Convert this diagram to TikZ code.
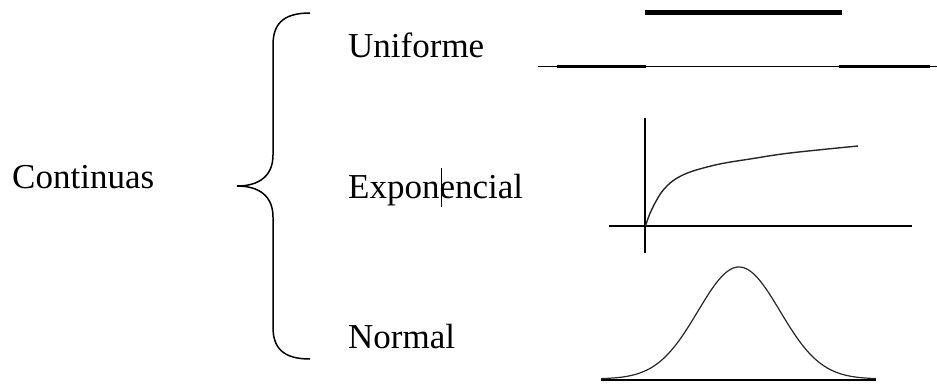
\documentclass[tikz,border=0pt]{standalone}
\usepackage{fontspec}
\setmainfont{Liberation Serif}
\usetikzlibrary{positioning}

\begin{document}
\begin{tikzpicture}[x=1pt,y=-1pt,
  every node/.style={font=\fontsize{35}{40}\selectfont,inner sep=0pt,anchor=base west},
  axisline/.style={line width=1.3pt},
  curveline/.style={line width=1.4pt,black!85}]
\useasboundingbox (0,0) rectangle (937,383);
% labels
\node (cont) at (12,188) {Continuas};
\node (unif) at (348,57) {Uniforme};
\node (expo) at (348,198) {Exponencial};
\node (norm) at (348,348) {Normal};
\draw[line width=1pt] (441,168) -- (441,207);
% brace
\draw[line width=1.5pt] (310,13) .. controls (282,13) and (273,25) .. (273,45)
  -- (273,155) .. controls (273,176) and (259,186) .. (237,186)
  .. controls (259,186) and (273,196) .. (273,217)
  -- (273,327) .. controls (273,347) and (282,359) .. (310,359);
% uniforme
\draw[line width=5pt] (645,12.5) -- (842,12.5);
\draw[line width=1pt] (538,66) -- (937,66);
\draw[line width=3pt] (557,66.5) -- (646,66.5);
\draw[line width=3pt] (839,66.5) -- (930,66.5);
% exponencial
\draw[axisline] (645,118) -- (645,253);
\draw[axisline] (609,226) -- (912,226);
\draw[curveline] plot[smooth,tension=0.6] coordinates {(645.5,226) (650,213.3) (656.7,200)
  (663.3,190) (673.3,180.5) (686.7,173.3) (703.3,168) (723.3,163.3) (750,159)
  (790,153) (858,146)};
% normal
\draw[line width=2.2pt] (601,380) -- (876,380);
\draw[curveline,line width=1.2pt] plot[domain=-138:137,samples=120] ({739+\x},{379-112*exp(-0.5*(\x/41)^2)});
\end{tikzpicture}
\end{document}
